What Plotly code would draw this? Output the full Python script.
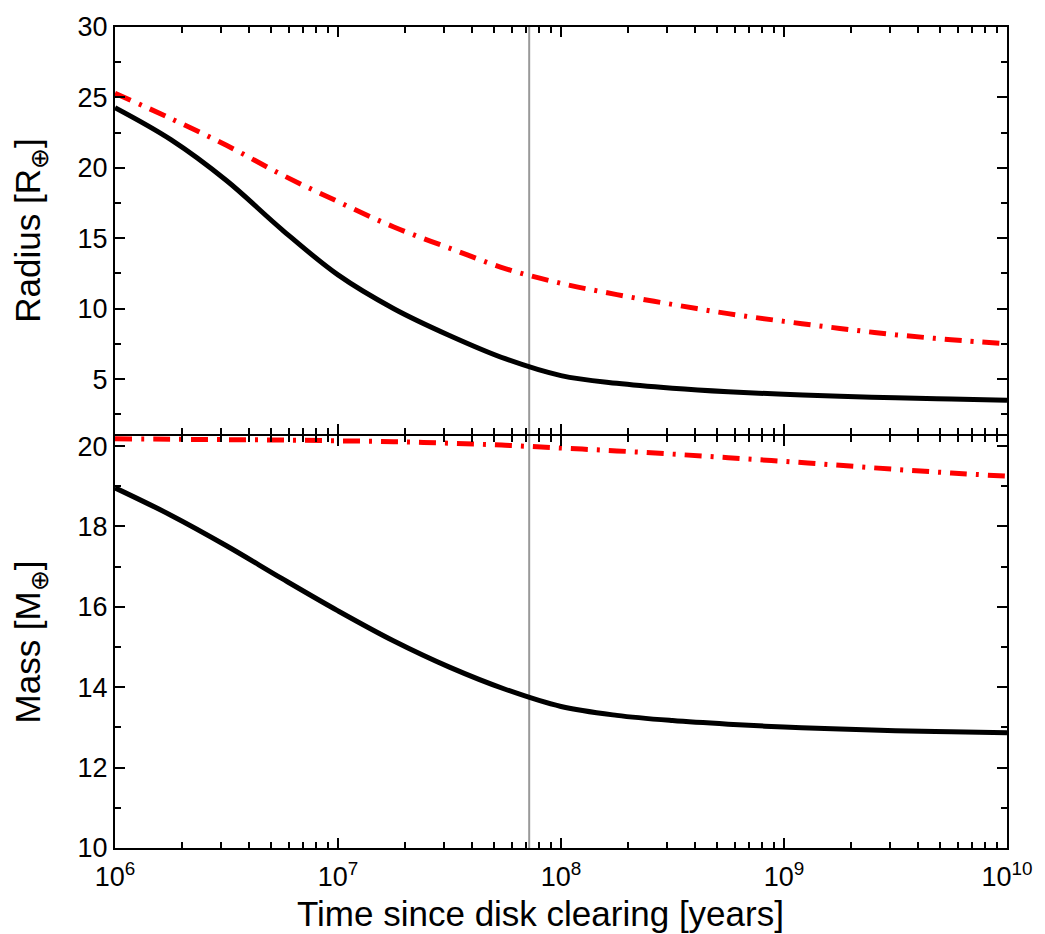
import plotly.graph_objects as go

# ---- data ----
time_years = [1.00e6, 1.78e6, 3.16e6, 5.62e6, 1.00e7, 1.78e7, 3.16e7, 5.62e7,
              1.00e8, 1.78e8, 3.16e8, 5.62e8, 1.00e9, 1.78e9, 3.16e9, 5.62e9, 1.00e10]
radius_solid = [24.27, 22.0, 19.1, 15.6, 12.4, 10.0, 8.1, 6.45,
                5.25, 4.7, 4.35, 4.1, 3.92, 3.78, 3.67, 3.58, 3.5]
radius_dashdot = [25.3, 23.5, 21.6, 19.5, 17.6, 15.8, 14.3, 12.85,
                  11.8, 11.0, 10.3, 9.65, 9.1, 8.6, 8.15, 7.8, 7.5]
mass_solid = [18.96, 18.28, 17.52, 16.7, 15.9, 15.15, 14.5, 13.95,
              13.52, 13.3, 13.17, 13.08, 13.01, 12.96, 12.92, 12.89, 12.87]
mass_dashdot = [20.18, 20.17, 20.16, 20.15, 20.13, 20.11, 20.07, 20.02,
                19.95, 19.88, 19.8, 19.71, 19.62, 19.52, 19.42, 19.33, 19.25]
marker_time = 7.2e7

x_tickvals = [1e6, 1e7, 1e8, 1e9, 1e10]
x_ticktext = ["10<sup>6</sup>", "10<sup>7</sup>", "10<sup>8</sup>", "10<sup>9</sup>", "10<sup>10</sup>"]
radius_ticks = [5, 10, 15, 20, 25, 30]
mass_ticks = [10, 12, 14, 16, 18, 20]

FONT = "Liberation Sans, Arial, Helvetica, sans-serif"
RED = "#ff0000"
DASHDOT = "17px,9px,3px,9px"

fig = go.Figure()
# top panel (radius)
fig.add_trace(go.Scatter(x=time_years, y=radius_dashdot, xaxis="x2", yaxis="y2", mode="lines",
                         line=dict(color=RED, width=5, dash=DASHDOT, shape="spline", smoothing=1.0)))
fig.add_trace(go.Scatter(x=time_years, y=radius_solid, xaxis="x2", yaxis="y2", mode="lines",
                         line=dict(color="black", width=5, shape="spline", smoothing=1.0)))
# bottom panel (mass)
fig.add_trace(go.Scatter(x=time_years, y=mass_dashdot, xaxis="x", yaxis="y", mode="lines",
                         line=dict(color=RED, width=5, dash=DASHDOT, shape="spline", smoothing=1.0)))
fig.add_trace(go.Scatter(x=time_years, y=mass_solid, xaxis="x", yaxis="y", mode="lines",
                         line=dict(color="black", width=5, shape="spline", smoothing=1.0)))

PLOT_H = 829
bottom_top = 416 / PLOT_H          # bottom panel: px 432..848
top_bottom = 418 / PLOT_H          # top panel: px 19..430 (lines meet at 431)

common_axis = dict(showline=True, linecolor="black", linewidth=2, mirror="ticks",
                   ticks="inside", ticklen=10, tickwidth=2, tickcolor="black",
                   showgrid=False, zeroline=False,
                   tickfont=dict(family=FONT, size=27, color="black"))

xa = dict(common_axis, type="log", range=[6, 10], tickvals=x_tickvals, ticktext=x_ticktext,
          minor=dict(ticks="inside", ticklen=6, tickwidth=2, tickcolor="black", dtick="D1", showgrid=False))

fig.update_layout(
    width=1045, height=934,
    margin=dict(l=115, r=31, t=19, b=86),
    paper_bgcolor="white", plot_bgcolor="white",
    showlegend=False,
    font=dict(family=FONT, color="black"),
    xaxis=dict(xa, domain=[0, 1], anchor="y", ticklabelstandoff=4),
    xaxis2=dict(xa, domain=[0, 1], anchor="y2", matches="x", showticklabels=False),
    yaxis=dict(common_axis, domain=[0, bottom_top], anchor="x", range=[10, 20.25], tickvals=mass_ticks,
               minor=dict(ticks="inside", ticklen=6, tickwidth=2, tickcolor="black", dtick=1, tick0=10),
               title=dict(text="Mass [M<sub>⊕</sub>]", font=dict(family=FONT, size=35), standoff=26)),
    yaxis2=dict(common_axis, domain=[top_bottom, 1], anchor="x2", range=[1.1, 30], tickvals=radius_ticks,
                minor=dict(ticks="inside", ticklen=6, tickwidth=2, tickcolor="black", dtick=2.5, tick0=0),
                title=dict(text="Radius [R<sub>⊕</sub>]", font=dict(family=FONT, size=35), standoff=26)),
    annotations=[dict(text="Time since disk clearing [years]", xref="paper", yref="paper",
                      x=(544 - 115) / 899, y=(848 - 914) / PLOT_H, xanchor="center", yanchor="middle",
                      showarrow=False, font=dict(family=FONT, size=35, color="black"))],
    shapes=[dict(type="line", xref="x", yref="paper", x0=marker_time, x1=marker_time, y0=0, y1=1,
                 line=dict(color="#999999", width=2), layer="below")],
)

fig.write_html("out.html")
